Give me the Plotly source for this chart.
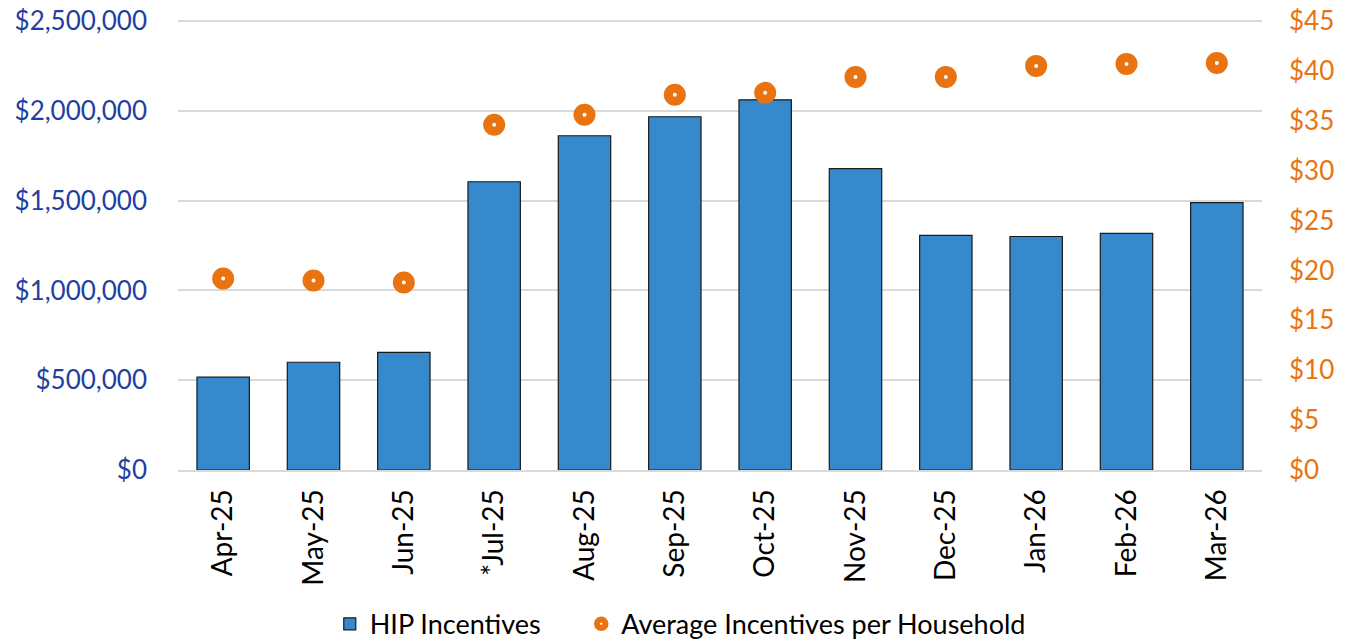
import plotly.graph_objects as go

months = ["Apr-25", "May-25", "Jun-25", "*Jul-25", "Aug-25", "Sep-25", "Oct-25",
          "Nov-25", "Dec-25", "Jan-26", "Feb-26", "Mar-26"]
hip_incentives = [517000, 600000, 655000, 1605000, 1861000, 1967000, 2061000,
                  1678000, 1306000, 1300000, 1317000, 1489000]
avg_per_household = [19.2, 19.0, 18.8, 34.6, 35.6, 37.6, 37.8, 39.4, 39.4, 40.5, 40.7, 40.8]

left_ticks = [0, 500000, 1000000, 1500000, 2000000, 2500000]
left_labels = ["$0", "$500,000", "$1,000,000", "$1,500,000", "$2,000,000", "$2,500,000"]
right_ticks = [0, 5, 10, 15, 20, 25, 30, 35, 40, 45]
right_labels = ["$" + str(v) for v in right_ticks]

FONT = "Lato"
BLUE = "#3589CC"
ORANGE = "#E97311"

# plot area: 451 px tall, top tick placed 2 px below the top edge
Y1_TOP = 2500000 * 451 / 449
Y2_TOP = 45 * 451 / 449

fig = go.Figure()
fig.add_trace(go.Bar(
    x=months, y=hip_incentives, name="HIP Incentives",
    marker=dict(color=BLUE, line=dict(color="#1a1a1a", width=1.2)),
    width=0.58, yaxis="y", legend="legend",
))
fig.add_trace(go.Scatter(
    x=months, y=avg_per_household, name="Average Incentives per Household",
    mode="markers", yaxis="y2", showlegend=False,
    marker=dict(symbol="circle", size=13, color="white",
                line=dict(color=ORANGE, width=9)),
))
# legend-only entry for the marker series
fig.add_trace(go.Scatter(
    x=[None], y=[None], name="Average Incentives per Household",
    mode="markers", yaxis="y2", legend="legend2",
    marker=dict(symbol="circle-dot", size=16, color=ORANGE,
                line=dict(color="white", width=1.5)),
))

fig.update_layout(
    width=1343, height=633,
    margin=dict(l=170, r=89, t=11, b=171, autoexpand=False),
    plot_bgcolor="white", paper_bgcolor="white",
    font=dict(family=FONT, size=26, color="black"),
    xaxis=dict(
        type="category", tickangle=-90, tickfont=dict(size=28, color="black"),
        range=[-0.5, 11.5],
        showgrid=False, showline=True, linecolor="#D9D9D9", linewidth=2,
        ticks="", ticklabelstandoff=6, automargin=False,
    ),
    yaxis=dict(
        range=[0, Y1_TOP], tickvals=left_ticks, ticktext=left_labels,
        tickfont=dict(size=26, color="#1F3FA3"),
        showgrid=True, gridcolor="#D9D9D9", gridwidth=1.5, zeroline=False,
        ticks="", ticklabelstandoff=30, automargin=False,
        ticklabeloverflow="allow",
    ),
    yaxis2=dict(
        range=[0, Y2_TOP], tickvals=right_ticks, ticktext=right_labels,
        overlaying="y", side="right",
        tickfont=dict(size=26, color=ORANGE),
        showgrid=False, zeroline=False, ticks="", ticklabelstandoff=26,
        automargin=False, ticklabeloverflow="allow",
    ),
    legend=dict(
        orientation="h", x=0.14, xanchor="left", y=-0.342, yanchor="middle",
        font=dict(size=27, color="black"), itemwidth=30,
    ),
    legend2=dict(
        orientation="h", x=0.372, xanchor="left", y=-0.342, yanchor="middle",
        font=dict(size=27, color="black"), itemwidth=30,
    ),
    showlegend=True,
)

fig.write_html("out.html")
